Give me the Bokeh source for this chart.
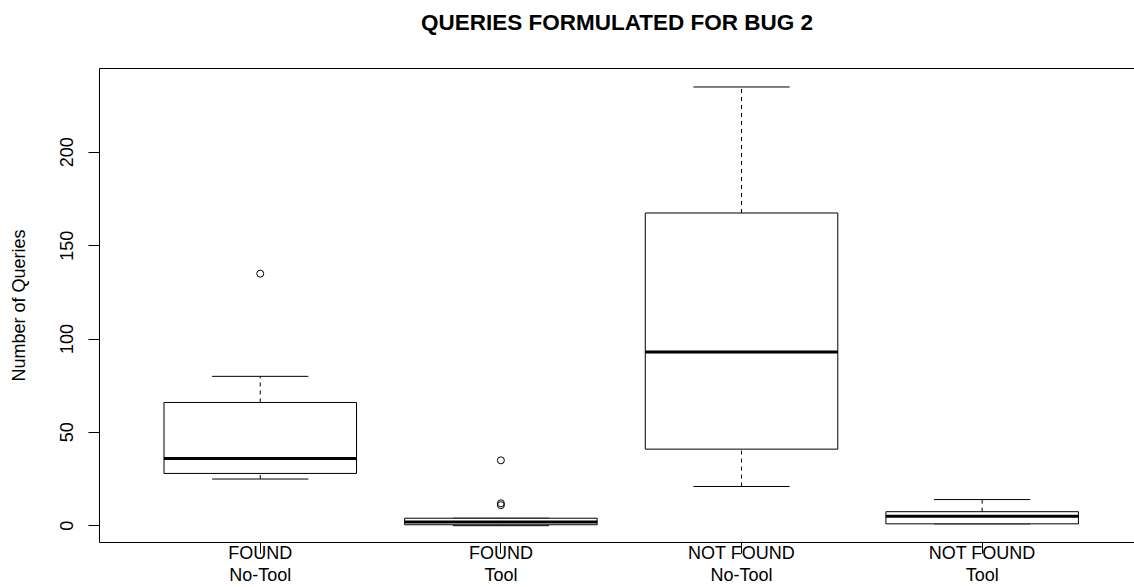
from bokeh.plotting import figure
from bokeh.models import ColumnDataSource, Range1d, FixedTicker, LinearAxis
from bokeh.embed import file_html
from bokeh.resources import INLINE

# Summary statistics for the number of queries formulated for bug 2
outcome = ["FOUND", "FOUND", "NOT FOUND", "NOT FOUND"]
condition = ["No-Tool", "Tool", "No-Tool", "Tool"]
lower_whisker = [25, 0, 21, 1]
q1 = [28, 0.5, 41, 1]
median = [36, 2, 93, 5]
q3 = [66, 4, 167.5, 7.5]
upper_whisker = [80, 4, 235, 14]

# Outlying observations (group index, value)
outlier_group = [1, 2, 2, 2]
outlier_value = [135, 35, 12, 11]

y_ticks = [0, 50, 100, 150, 200]

FONT = "Liberation Sans"
BOX_HALF = 0.4
CAP_HALF = 0.2

pos = list(range(1, len(outcome) + 1))
src = ColumnDataSource(dict(
    x=pos,
    left=[p - BOX_HALF for p in pos],
    right=[p + BOX_HALF for p in pos],
    cap_l=[p - CAP_HALF for p in pos],
    cap_r=[p + CAP_HALF for p in pos],
    lw=lower_whisker, q1=q1, med=median, q3=q3, uw=upper_whisker,
))
out_src = ColumnDataSource(dict(x=outlier_group, y=outlier_value))

p = figure(width=1134, height=587, output_backend="svg", toolbar_location=None,
           x_range=Range1d(0.332, 4.633), y_range=Range1d(-9, 244.9),
           min_border_left=99, min_border_right=0, min_border_top=68,
           min_border_bottom=45, outline_line_color=None,
           background_fill_color="white", border_fill_color="white")
p.grid.visible = False

# whiskers and caps
p.segment("x", "q3", "x", "uw", source=src, line_color="black", line_width=1,
          line_dash="4 4")
p.segment("x", "lw", "x", "q1", source=src, line_color="black", line_width=1,
          line_dash="4 4")
p.segment("cap_l", "uw", "cap_r", "uw", source=src, line_color="black", line_width=1)
p.segment("cap_l", "lw", "cap_r", "lw", source=src, line_color="black", line_width=1)
# boxes and medians
p.quad(left="left", right="right", bottom="q1", top="q3", source=src,
       fill_color="white", line_color="black", line_width=1)
p.segment("left", "med", "right", "med", source=src, line_color="black", line_width=3)
# outliers
p.scatter("x", "y", source=out_src, marker="circle", size=7, fill_color=None,
          line_color="black", line_width=1)

# y axis
ya = p.yaxis[0]
ya.ticker = FixedTicker(ticks=y_ticks)
ya.minor_tick_line_color = None
ya.major_tick_in = 0
ya.major_tick_out = 11
ya.major_label_orientation = "vertical"
ya.major_label_standoff = 15
ya.major_label_text_font = FONT
ya.major_label_text_font_size = "18px"
ya.major_label_text_color = "black"
ya.axis_label = "Number of Queries"
ya.axis_label_text_font = FONT
ya.axis_label_text_font_size = "18px"
ya.axis_label_text_font_style = "normal"
ya.axis_label_text_color = "black"
ya.axis_label_standoff = 29
ya.axis_line_color = "black"
ya.major_tick_line_color = "black"

# x axis: first caption line (outcome)
xa = p.xaxis[0]
xa.ticker = FixedTicker(ticks=pos)
xa.major_label_overrides = {x: o for x, o in zip(pos, outcome)}
xa.minor_tick_line_color = None
xa.major_tick_in = 0
xa.major_tick_out = 11
xa.major_label_standoff = -11
xa.major_label_text_font = FONT
xa.major_label_text_font_size = "18px"
xa.major_label_text_color = "black"
xa.axis_line_color = "black"
xa.major_tick_line_color = "black"

# second caption line (condition), stacked under the first
xa2 = LinearAxis(ticker=FixedTicker(ticks=pos),
                 major_label_overrides={x: c for x, c in zip(pos, condition)},
                 axis_line_color=None, major_tick_line_color=None,
                 minor_tick_line_color=None, major_tick_in=0, major_tick_out=0,
                 major_label_standoff=-1, major_label_text_font=FONT,
                 major_label_text_font_size="18px", major_label_text_color="black")
p.add_layout(xa2, "below")

# top edge of the plot box, carrying the chart title
top_axis = LinearAxis(ticker=FixedTicker(ticks=[]), major_label_text_font_size="0px",
                      major_tick_out=0, major_tick_in=0,
                      major_tick_line_color=None, minor_tick_line_color=None,
                      axis_line_color="black", major_label_standoff=0,
                      axis_label="QUERIES FORMULATED FOR BUG 2",
                      axis_label_text_font=FONT, axis_label_text_font_size="22.5px",
                      axis_label_text_font_style="bold", axis_label_text_color="black",
                      axis_label_standoff=34)
p.add_layout(top_axis, "above")

open("out.html", "w").write(file_html(p, INLINE))
